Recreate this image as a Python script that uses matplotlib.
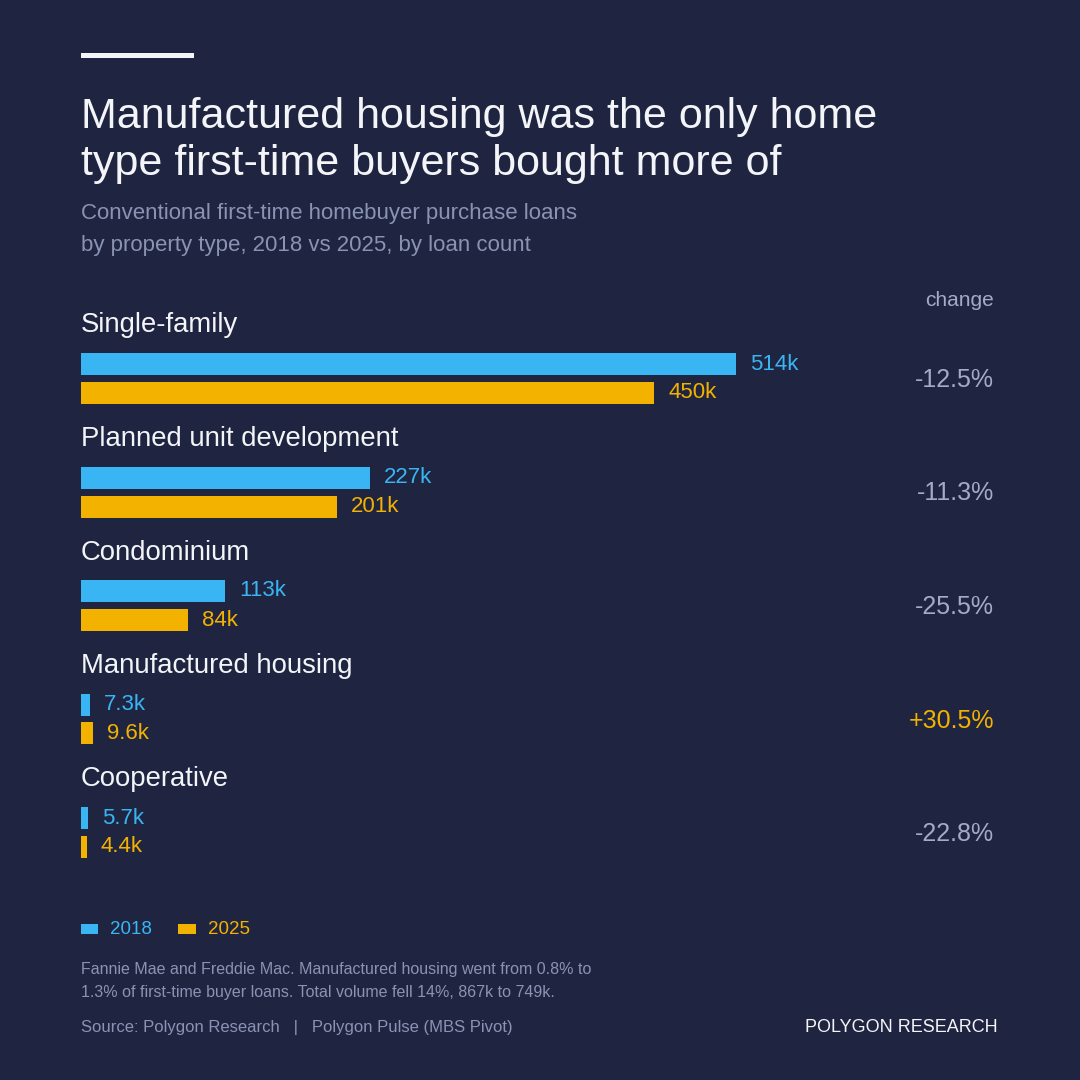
import matplotlib.pyplot as plt
from matplotlib.patches import Rectangle

# data (loan counts, thousands)
categories = ["Single-family", "Planned unit development", "Condominium",
              "Manufactured housing", "Cooperative"]
loans_2018 = [514, 227, 113, 7.3, 5.7]
loans_2025 = [450, 201, 84, 9.6, 4.4]
labels_2018 = ["514k", "227k", "113k", "7.3k", "5.7k"]
labels_2025 = ["450k", "201k", "84k", "9.6k", "4.4k"]
changes = ["-12.5%", "-11.3%", "-25.5%", "+30.5%", "-22.8%"]

title_lines = ["Manufactured housing was the only home",
               "type first-time buyers bought more of"]
subtitle_lines = ["Conventional first-time homebuyer purchase loans",
                  "by property type, 2018 vs 2025, by loan count"]
note_lines = ["Fannie Mae and Freddie Mac. Manufactured housing went from 0.8% to",
              "1.3% of first-time buyer loans. Total volume fell 14%, 867k to 749k."]

BG = "#1f2541"
BLUE = "#3ab5f4"
GOLD = "#f3b200"
WHITE = "#f4f5f8"
GREY = "#8b93b3"
GREY_CHG = "#a3abc6"

plt.rcParams["font.family"] = ["Liberation Sans", "DejaVu Sans"]

W = H = 1080
fig = plt.figure(figsize=(10.8, 10.8), dpi=100, facecolor=BG)


def fx(px):
    return px / W


def fy(py):
    return 1 - py / H


# accent line on top
fig.patches.append(Rectangle((fx(81), fy(58)), fx(113), 5 / H, transform=fig.transFigure,
                             color=WHITE, lw=0))

for line, base in zip(title_lines, [128, 175]):
    fig.text(fx(81), fy(base), line, color=WHITE, fontsize=31, va="baseline", ha="left")
for line, base in zip(subtitle_lines, [219, 251]):
    fig.text(fx(81), fy(base), line, color=GREY, fontsize=16, va="baseline", ha="left")

# main bar axes: x in k loans, y in group units (1 unit = 113.5 px)
scale = 1.274  # px per thousand
ax_left, ax_right = 81, 994
ax_top, ax_bot = 280, 880
gap = 113.5
y0 = 378.5
ax = fig.add_axes([fx(ax_left), fy(ax_bot), fx(ax_right - ax_left), (ax_bot - ax_top) / H])
ax.set_facecolor("none")
ax.set_xlim(0, (ax_right - ax_left) / scale)
ax.set_ylim((ax_bot - y0) / gap, (ax_top - y0) / gap)
ax.axis("off")

bar_h = 22 / gap
off = 14.5 / gap
pad = 14 / scale
for i, cat in enumerate(categories):
    ax.barh(i - off, loans_2018[i], height=bar_h, color=BLUE, lw=0)
    ax.barh(i + off, loans_2025[i], height=bar_h, color=GOLD, lw=0)
    ax.text(loans_2018[i] + pad, i - off, labels_2018[i], color=BLUE, fontsize=16,
            va="center", ha="left")
    ax.text(loans_2025[i] + pad, i + off, labels_2025[i], color=GOLD, fontsize=16,
            va="center", ha="left")
    ax.text(0, i - 53 / gap, cat, color=WHITE, fontsize=19.8, va="center", ha="left")
    chg_color = GOLD if changes[i].startswith("+") else GREY_CHG
    ax.text(1.0, i + 1.5 / gap, changes[i], color=chg_color, fontsize=18, va="center", ha="right",
            transform=ax.get_yaxis_transform())

ax.text(1.0, -78 / gap, "change", color=GREY_CHG, fontsize=15, va="center", ha="right",
        transform=ax.get_yaxis_transform())

# legend
fig.patches.append(Rectangle((fx(81), fy(934)), fx(17), 10 / H, transform=fig.transFigure,
                             color=BLUE, lw=0))
fig.text(fx(110), fy(934), "2018", color=BLUE, fontsize=13.5, va="baseline", ha="left")
fig.patches.append(Rectangle((fx(178), fy(934)), fx(18), 10 / H, transform=fig.transFigure,
                             color=GOLD, lw=0))
fig.text(fx(208), fy(934), "2025", color=GOLD, fontsize=13.5, va="baseline", ha="left")

# footnotes
for line, base in zip(note_lines, [974, 997]):
    fig.text(fx(81), fy(base), line, color=GREY, fontsize=11.5, va="baseline", ha="left")
fig.text(fx(81), fy(1032), "Source: Polygon Research   |   Polygon Pulse (MBS Pivot)",
         color=GREY, fontsize=12, va="baseline", ha="left")
fig.text(fx(998), fy(1032), "POLYGON RESEARCH", color=WHITE, fontsize=13,
         va="baseline", ha="right")

fig.savefig("out.png", dpi=100, facecolor=BG)
